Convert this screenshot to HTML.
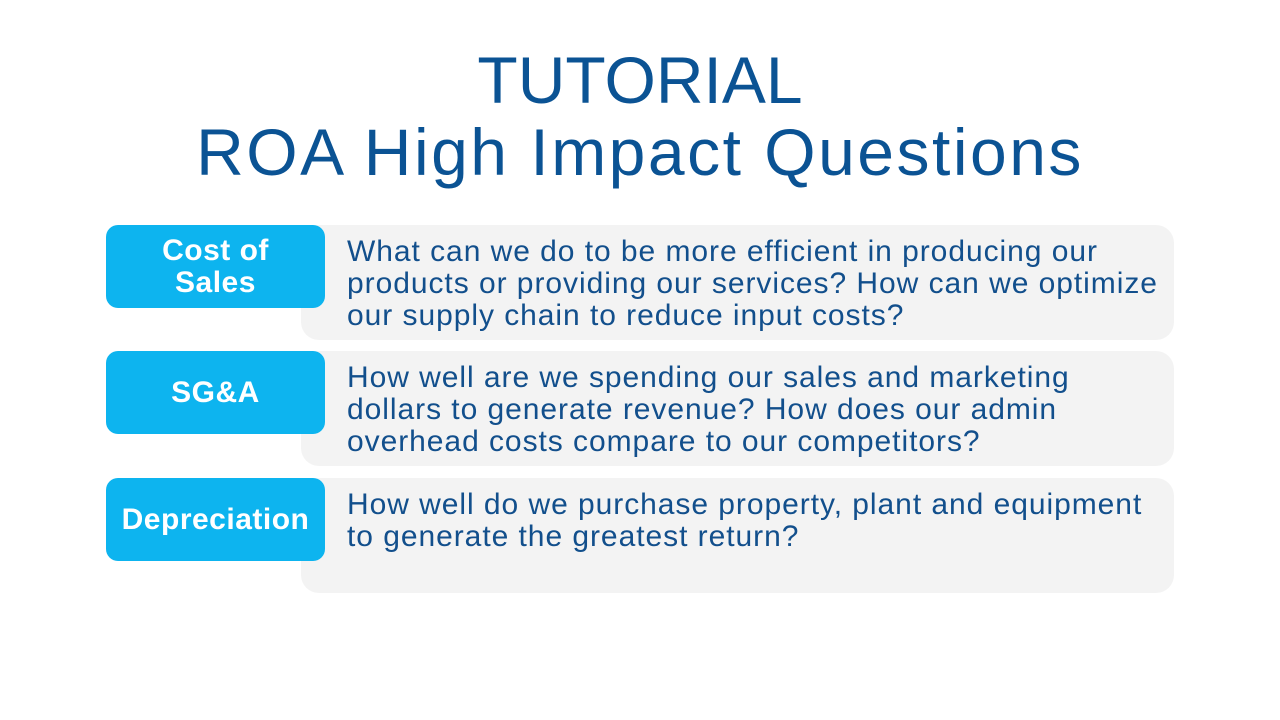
<!DOCTYPE html>
<html><head><meta charset="utf-8"><style>
body{margin:0;width:1280px;height:720px;background:#fff;font-family:"Liberation Sans",sans-serif;position:relative;overflow:hidden}
.title{position:absolute;left:0;width:1280px;text-align:center;color:#0b5394;font-size:66px;line-height:70px;white-space:nowrap}
.box{position:absolute;left:301px;width:873px;height:115px;background:#f3f3f3;border-radius:18px}
.lab{position:absolute;left:106px;width:219px;height:83px;background:#0db4ef;border-radius:12px;color:#fff;font-weight:bold;font-size:30px;letter-spacing:0.5px;line-height:32px;display:flex;align-items:center;justify-content:center;text-align:center}
.txt{position:absolute;left:347px;width:840px;color:#124f8c;font-size:30px;letter-spacing:0.95px;line-height:32px;white-space:nowrap}
</style></head><body>
<div class="title" style="top:45px">TUTORIAL</div>
<div class="title" style="top:117px;letter-spacing:2.5px">ROA High Impact Questions</div>

<div class="box" style="top:225px"></div>
<div class="lab" style="top:225px">Cost of<br>Sales</div>
<div class="txt" style="top:236px">What can we do to be more efficient in producing our<br>products or providing our services? How can we optimize<br>our supply chain to reduce input costs?</div>

<div class="box" style="top:351px"></div>
<div class="lab" style="top:351px">SG&amp;A</div>
<div class="txt" style="top:362px">How well are we spending our sales and marketing<br>dollars to generate revenue? How does our admin<br>overhead costs compare to our competitors?</div>

<div class="box" style="top:478px"></div>
<div class="lab" style="top:478px">Depreciation</div>
<div class="txt" style="top:489px">How well do we purchase property, plant and equipment<br>to generate the greatest return?</div>
</body></html>
